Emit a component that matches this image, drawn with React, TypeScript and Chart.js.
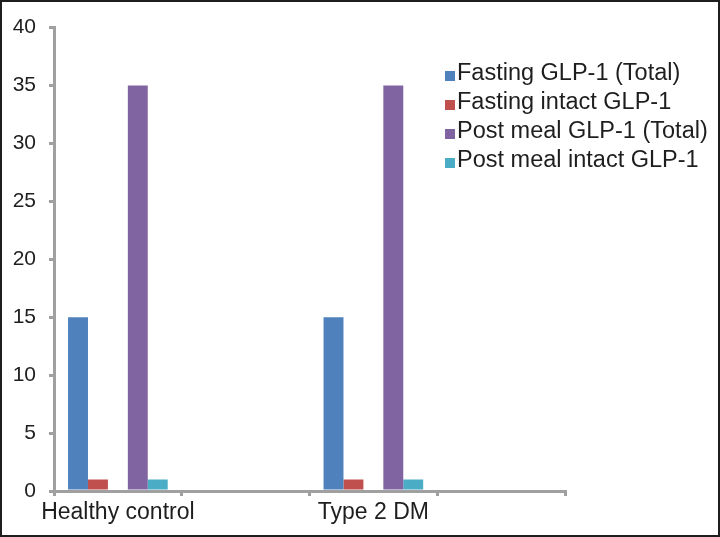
import React, { useEffect, useRef } from "react";
import { Chart, registerables } from "chart.js";

Chart.register(...registerables);

const categories = ["Healthy control", "", "Type 2 DM", ""];
const fastingTotal = [15, null, 15, null];
const fastingIntact = [1, null, 1, null];
const gapSeries = [null, null, null, null];
const postMealTotal = [35, null, 35, null];
const postMealIntact = [1, null, 1, null];
const seriesNames = [
  "Fasting GLP-1 (Total)",
  "Fasting intact GLP-1",
  "Post meal GLP-1 (Total)",
  "Post meal intact GLP-1",
];
const seriesColors = ["#4F81BD", "#C0504D", "#8064A2", "#4BACC6"];
const yMin = 0;
const yMax = 40;
const yStep = 5;

const FONT = "'Liberation Sans', Arial, sans-serif";
const AXIS = "#a0a0a0";
const TEXT = "#1e1e1e";

export default function App() {
  const ref = useRef<HTMLCanvasElement | null>(null);

  useEffect(() => {
    document.body.style.margin = "0";
    const canvas = ref.current;
    if (!canvas) return;
    const chart = new Chart(canvas, {
      type: "bar",
      data: {
        labels: categories,
        datasets: [
          { label: seriesNames[0], data: fastingTotal, backgroundColor: seriesColors[0] },
          { label: seriesNames[1], data: fastingIntact, backgroundColor: seriesColors[1] },
          { label: "", data: gapSeries, backgroundColor: "rgba(0,0,0,0)" },
          { label: seriesNames[2], data: postMealTotal, backgroundColor: seriesColors[2] },
          { label: seriesNames[3], data: postMealIntact, backgroundColor: seriesColors[3] },
        ],
      },
      options: {
        responsive: false,
        maintainAspectRatio: false,
        animation: false,
        layout: { padding: { left: 0, right: 153, top: 21, bottom: 0 } },
        datasets: { bar: { categoryPercentage: 0.78, barPercentage: 1 } },
        plugins: { legend: { display: false }, tooltip: { enabled: false } },
        scales: {
          x: {
            afterFit: (s: any) => {
              s.height = 44;
            },
            border: { display: true, color: AXIS, width: 3 },
            grid: {
              display: true,
              offset: true,
              drawOnChartArea: false,
              drawTicks: true,
              tickLength: 5,
              color: AXIS,
              lineWidth: 3,
            },
            ticks: {
              autoSkip: false,
              maxRotation: 0,
              minRotation: 0,
              padding: 3,
              color: TEXT,
              font: { family: FONT, size: 23 },
            },
          },
          y: {
            min: yMin,
            max: yMax,
            afterFit: (s: any) => {
              s.width = 52;
            },
            border: { display: true, color: AXIS, width: 3 },
            grid: {
              display: true,
              drawOnChartArea: false,
              drawTicks: true,
              tickLength: 5,
              color: AXIS,
              lineWidth: 3,
            },
            ticks: {
              stepSize: yStep,
              padding: 13,
              color: TEXT,
              font: { family: FONT, size: 21 },
            },
          },
        },
      },
    });
    return () => chart.destroy();
  }, []);

  return (
    <div
      style={{
        position: "relative",
        width: 720,
        height: 537,
        border: "2px solid #1e1e1e",
        boxSizing: "border-box",
        background: "#fff",
        overflow: "hidden",
      }}
    >
      <canvas ref={ref} width={716} height={533} style={{ display: "block" }} />
      <div style={{ position: "absolute", left: 443, top: 56 }}>
        {seriesNames.map((name, i) => (
          <div
            key={name}
            style={{
              display: "flex",
              alignItems: "center",
              height: 29,
              fontFamily: FONT,
              fontSize: 23.5,
              color: TEXT,
              whiteSpace: "nowrap",
            }}
          >
            <span
              style={{
                display: "inline-block",
                width: 10,
                height: 10,
                background: seriesColors[i],
                marginRight: 2,
                marginTop: 6,
              }}
            />
            <span>{name}</span>
          </div>
        ))}
      </div>
    </div>
  );
}
